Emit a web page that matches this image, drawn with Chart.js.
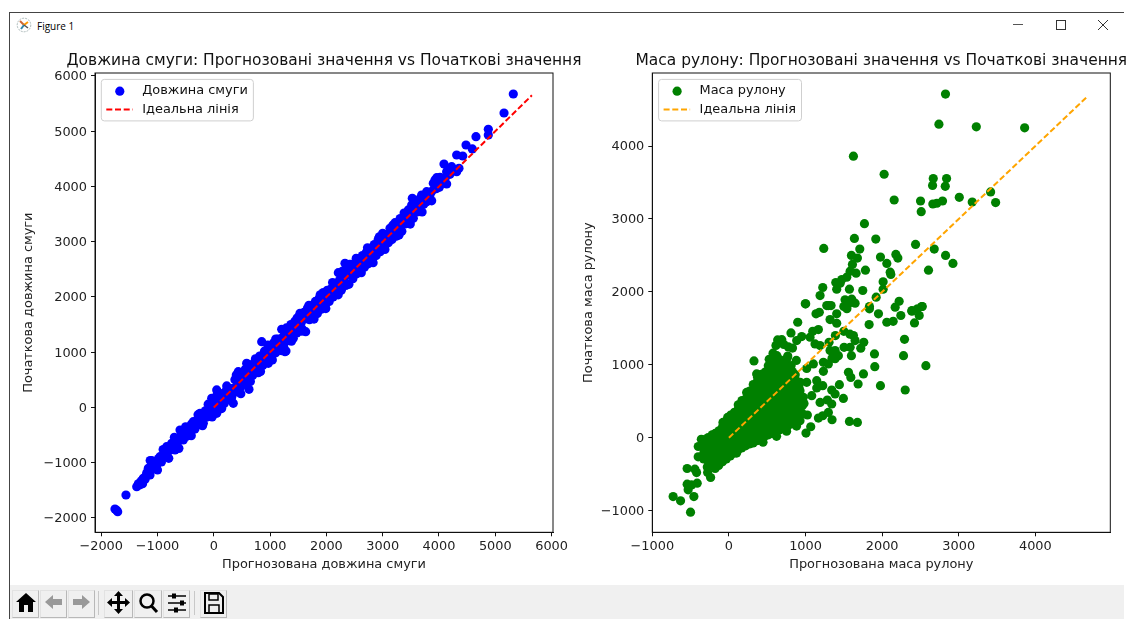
<!DOCTYPE html>
<html lang="uk">
<head>
<meta charset="utf-8">
<title>Figure 1</title>
<script src="https://cdn.jsdelivr.net/npm/chart.js@4"></script>
<style>
html,body{margin:0;padding:0;background:#fff;width:1126px;height:619px;overflow:hidden}
#win{position:absolute;left:9px;top:12px;width:1115px;height:607px;border-left:1px solid #444;border-top:1px solid #444;box-sizing:border-box;background:#fff}
#tt{position:absolute;left:37px;top:19px;font:10px "Open Sans",sans-serif;color:#000}
#bar{position:absolute;left:10px;top:585px;width:1114px;height:34px;background:#f0f0f0}
canvas{position:absolute}
svg{position:absolute}
.btn{position:absolute;top:590px;height:28px;background:#f0f0f0;border:1px solid #e2e2e2;border-bottom-color:#b8b8b8;border-right-color:#b8b8b8;box-sizing:border-box}
</style>
</head>
<body>
<div id="win"></div>
<svg style="left:16px;top:17px" width="16" height="16" viewBox="0 0 16 16">
<circle cx="8" cy="8" r="6.8" fill="none" stroke="#9aa" stroke-width=".8" stroke-dasharray="2 1"/>
<path d="M8 8L4 4" stroke="#c63" stroke-width="2"/><path d="M8 8L12 5" stroke="#f90" stroke-width="2"/><path d="M8 8L5 12" stroke="#38a" stroke-width="2"/><path d="M8 8L12 11" stroke="#555" stroke-width="1.5"/>
</svg>
<div id="tt">Figure 1</div>
<svg style="left:1010px;top:15px" width="110" height="20" viewBox="0 0 110 20">
<path d="M3 9.5H13" stroke="#555" stroke-width="1"/>
<rect x="46.5" y="5.5" width="9" height="9" fill="none" stroke="#333" stroke-width="1"/>
<path d="M88 5L98 15M98 5L88 15" stroke="#333" stroke-width="1"/>
</svg>
<canvas id="c1" width="608" height="545" style="left:20px;top:40px"></canvas>
<canvas id="c2" width="546" height="545" style="left:580px;top:40px"></canvas>
<div id="bar"></div>
<div class="btn" style="left:12px;width:27px"></div><div class="btn" style="left:40px;width:27px"></div><div class="btn" style="left:68px;width:27px"></div>
<div class="btn" style="left:104px;width:29px"></div><div class="btn" style="left:134px;width:28px"></div><div class="btn" style="left:163px;width:27px"></div>
<div class="btn" style="left:200px;width:27px"></div>
<svg style="left:0;top:585px" width="240" height="34" viewBox="0 0 240 34">
<path d="M98.5 6V30M194.5 6V30" stroke="#c8c8c8"/>
<path d="M16 17L26 8L36 17H33V27H28V20H24V27H19V17Z" fill="#000"/>
<path d="M45 17L53 10V14H62V20H53V24Z" fill="#999"/>
<path d="M90 17L82 10V14H73V20H82V24Z" fill="#999"/>
<path d="M118.500 6L123 11H120V16H125V13L130 17.500L125 22V19H120V24H123L118.500 29L114 24H117V19H112V22L107 17.500L112 13V16H117V11H114Z" fill="#000"/>
<circle cx="147" cy="16" r="6.500" fill="none" stroke="#000" stroke-width="2.500"/><path d="M151.500 21L157 27" stroke="#000" stroke-width="3"/>
<path d="M168 11H186M168 18H186M168 25H186" stroke="#000" stroke-width="1.500"/><rect x="172" y="8.500" width="4" height="5" fill="#000"/><rect x="180" y="15.500" width="4" height="5" fill="#000"/><rect x="174" y="22.500" width="4" height="5" fill="#000"/>
<path d="M205 8H219L223 12V28H205Z" fill="none" stroke="#000" stroke-width="2"/><rect x="209" y="9" width="9" height="6" fill="none" stroke="#000" stroke-width="1.500"/><rect x="209" y="20" width="10" height="8" fill="none" stroke="#000" stroke-width="1.500"/>
</svg>
<script>
const ticksLeft = [-2000,-1000,0,1000,2000,3000,4000,5000,6000];
const ticksRight = [-1000,0,1000,2000,3000,4000];
const leftTitle = 'Довжина смуги: Прогнозовані значення vs Початкові значення';
const rightTitle = 'Маса рулону: Прогнозовані значення vs Початкові значення';
const leftXLabel = 'Прогнозована довжина смуги';
const leftYLabel = 'Початкова довжина смуги';
const rightXLabel = 'Прогнозована маса рулону';
const rightYLabel = 'Початкова маса рулону';
const leftSeriesName = 'Довжина смуги';
const rightSeriesName = 'Маса рулону';
const idealName = 'Ідеальна лінія';
const leftIdeal = [[0,0],[5650,5650]];
const rightIdeal = [[0,0],[4680,4680]];
const lengthPoints = [
[-1755,-1837],[-1707,-1886],[-1725,-1860],[-1560,-1584],[-1369,-1433],[-1340,-1380],[-1310,-1400],[-1290,-1330],[-1252,-1281],[-1265,-1380],[-1220,-1300],[-1190,-1180],[-1163,-1100],[-1133,-1222],[-1103,-963],[-1080,-1110],[-1050,-1000],[-1014,-1041],[-985,-930],[-956,-890],[-930,-985],[-900,-900],[-867,-860],[-837,-709],[-815,-800],[-790,-735],[-748,-648],[-720,-720],[-689,-769],[-660,-640],[-630,-560],[-600,-407],[-575,-490],[-542,-588],[-510,-430],[-480,-520],[-450,-360],[-423,-467],[-395,-300],[-364,-257],[-335,-390],[-300,-230],[-270,-310],[-245,-105],[-215,-190],[-186,-286],[-150,-60],[-120,-170],[-90,-20],[-60,-110],[-37,166],[-10,-50],[20,90],[52,-105],[52,317],[85,170],[115,30],[150,250],[185,70],[215,300],[250,150],[285,340],[318,190],[346,76],[375,500],[405,280],[435,648],[470,360],[505,590],[540,420],[584,800],[600,500],[625,329],[655,770],[690,580],[720,810],[755,640],[790,630],[815,930],[851,1191],[870,760],[900,1020],[935,830],[968,800],[1000,1090],[1030,930],[1065,1170],[1100,990],[1135,1240],[1170,1050],[1206,1415],[1240,1110],[1265,1010],[1282,1023],[1300,1380],[1335,1210],[1370,1500],[1412,1252],[1440,1560],[1475,1350],[1510,1640],[1531,1705],[1570,1420],[1600,1720],[1632,1372],[1665,1800],[1700,1590],[1735,1850],[1770,1650],[1805,1920],[1840,1700],[1875,1980],[1910,1780],[1945,2080],[1980,1850],[2015,2120],[2050,1920],[2085,2150],[2120,2000],[2155,2240],[2212,2440],[2190,2070],[2230,2300],[2265,2120],[2300,2380],[2330,2610],[2345,2210],[2380,2560],[2410,2590],[2445,2590],[2470,2330],[2505,2610],[2540,2420],[2575,2690],[2610,2480],[2640,2750],[2675,2540],[2710,2810],[2745,2600],[2780,2880],[2815,2670],[2850,2950],[2885,2750],[2920,3040],[2955,2820],[3000,3153],[3030,2900],[3065,3130],[3100,2980],[3130,3243],[3165,3040],[3219,3345],[3240,3100],[3277,3153],[3310,3420],[3340,3190],[3396,3321],[3420,3500],[3455,3575],[3480,3360],[3515,3665],[3526,3786],[3544,3424],[3590,3540],[3633,3544],[3660,3780],[3692,3846],[3730,3680],[3781,3725],[3781,3906],[3840,3846],[3899,4058],[3929,4118],[4006,3985],[4018,4166],[3970,4050],[4089,4407],[4136,4268],[4136,4045],[4166,4329],[4225,4359],[4314,4268],[4314,4570],[4355,4329],[4421,4552],[4480,4751],[4592,4679],[4657,4902],[4876,4932],[4876,5035],[5155,5330],[5320,5674],
[-1205,-1235],[-1120,-1085],[-1035,-1060],[-960,-975],[-880,-830],[-760,-700],[-700,-660],[-610,-590],[-520,-530],[-460,-440],[-380,-350],[-320,-320],[-240,-230],[-170,-125],[-75,-80],[0,30],[45,10],[100,130],[170,120],[225,210],[275,235],[330,340],[395,360],[450,430],[490,460],[555,555],[610,650],[670,650],[735,720],[775,790],[835,810],[880,910],[925,930],[985,950],[1045,1060],[1090,1075],[1150,1140],[1215,1260],[1255,1310],[1320,1290],[1385,1400],[1425,1390],[1490,1510],[1550,1530],[1615,1600],[1680,1690],[1750,1740],[1820,1810],[1890,1880],[1960,1970],[2030,2020],[2100,2110],[2170,2160],[2245,2230],[2310,2310],[2365,2400],[2425,2440],[2490,2470],[2555,2560],[2625,2610],[2690,2680],[2760,2750],[2830,2820],[2900,2890],[2975,2990],[3045,3040],[3115,3110],[3185,3190],[3260,3250],[3325,3330],[3375,3400],[3440,3430],[3500,3520],[3570,3610],[3615,3650],[3680,3690],[3745,3790],[3810,3800],[3870,3910],[3950,3960],[4050,4090],[4110,4150],[4195,4220],[4280,4300],[3000,2990],[2960,3000],[2230,2200],[1850,1860],[1720,1700],[1650,1640],[1450,1450],[1190,1200],[1110,1110],[960,1000],[800,800],[520,520],[-130,-110],[-550,-540],[-650,-650],[-770,-770],
[-1130,-960],[-1000,-1130],[-900,-760],[-800,-920],[-700,-540],[-620,-740],[-500,-350],[-400,-510],[-280,-130],[-200,-330],[-100,60],[-30,-170],[60,240],[140,-20],[230,390],[310,120],[400,590],[480,250],[560,690],[650,470],[740,880],[830,650],[960,1130],[1040,860],[1100,1240],[1200,1030],[1290,1440],[1380,1200],[1480,1620],[1560,1380],[1690,1850],[1780,1600],[1890,2040],[1990,1790],[2110,2260],[2210,2040],[2290,2470],[2400,2230],[2530,2700],[2620,2440],[2730,2890],[2830,2620],[2940,3090],[3040,2860],[3180,3300],[3290,3120],[3380,3520],[3490,3320],[3590,3700],[3700,3540],[3870,3740],[3960,4160]
];
const massPoints = [
[2827,4712],[2741,4300],[3229,4263],[3860,4250],[1625,3860],[2026,3613],[2667,3553],[2841,3553],[2658,3460],[2824,3448],[3416,3370],[3007,3297],[2157,3260],[2501,3246],[3176,3232],[3481,3224],[2662,3205],[2714,3215],[2788,3246],[2510,3100],[1769,2935],[1638,2733],[1917,2724],[2436,2651],[1238,2596],[1708,2587],[2680,2587],[1599,2500],[1677,2463],[1978,2477],[2179,2514],[2205,2463],[2828,2500],[2924,2390],[2061,2390],[1612,2376],[1782,2298],[2605,2298],[1582,2284],[1660,2257],[2105,2270],[2113,2239],[1538,2202],[1473,2170],[1395,2129],[1452,2120],[1225,2060],[1407,2037],[1573,2037],[2013,2139],[2013,2037],[1747,2019],[1190,1950],[1922,1927],[997,1836],[1277,1813],[1333,1813],[1516,1891],[1603,1900],[1647,1845],[1560,1836],[2222,1872],[2170,1790],[1834,1800],[2523,1800],[2462,1768],[2388,1744],
[1137,1699],[898,1584],[1298,1813],[1407,1699],[1320,1620],[1407,1570],[1952,1699],[1834,1768],[1830,1552],[2061,1584],[2144,1597],[2244,1676],[2388,1735],[2519,1800],[2484,1676],[2422,1575],[2292,1350],[2279,1126],[2571,989],[2301,655],[1900,1150],[1904,975],[1756,875],[1978,714],[1686,737],[1760,1309],[1721,1227],[1573,224],[1677,210],[1494,540],[1442,728],[1346,247],[1342,655],[1386,600],[1285,518],[1342,463],[1190,485],[1298,347],[1225,302],[1168,270],[1068,151],[1006,65],[1024,312],[928,233],
[327,1054],[514,989],[362,875],[375,773],[231,622],[122,453],[-17,279],[-131,96],[-336,-32],[-270,4],[-401,-261],[-545,-421],[-444,-430],[-422,-477],[-239,-545],[-278,-477],[-545,-636],[-414,-622],[-488,-646],[-532,-714],[-457,-806],[-728,-806],[-631,-865],[-501,-1020],
[636,1342],[690,1345],[810,1438],[885,1332],[950,1387],[1094,1460],[1168,1483],[1059,1378],[1124,1287],[1190,1264],[1307,1309],[1390,1401],[1500,1460],[1625,1401],[1647,1332],[1580,1420],[1503,1240],[1582,1240],[1599,1126],[1320,1195],[1386,1195],[1429,1126],[1346,1090],[1386,1085],[1233,1034],[1298,1012],[1102,1012],[1015,950],[1233,911],[1560,897],[1591,828],[1146,783],[1015,760],[1225,714],[1146,683],[1081,577],[928,645],[971,554],[958,440],[1002,1836],[1180,1720],[1500,1800],[1540,1770],
[-400,-120],[-360,-20],[-80,-300],[100,-210],[445,-60],[622,20],[753,90],[883,160],[960,330],[980,470],[930,760],[880,1060],[760,1090],[830,1230],
[-330,-290],[-325,-200],[-335,-110],[-320,-30],[-282,-400],[-275,-320],[-285,-250],[-278,-170],[-270,-80],[-232,-360],[-225,-290],[-235,-210],[-228,-130],[-222,-40],[-218,40],[-180,-420],[-176,-340],[-186,-270],[-172,-190],[-184,-100],[-170,-20],[-178,60],[-134,-380],[-126,-300],[-138,-220],[-128,-150],[-122,-60],[-136,20],[-84,-330],[-76,-260],[-88,-180],[-74,-100],[-82,-20],[-72,60],[-86,140],[-78,210],[-34,-290],[-26,-210],[-38,-130],[-24,-50],[-32,30],[-22,110],[-36,190],[18,-250],[26,-170],[12,-90],[24,-10],[16,70],[28,150],[14,230],[22,310],[66,-210],[74,-130],[62,-50],[76,30],[68,110],[78,190],[64,270],[72,350],[116,-170],[124,-90],[112,-10],[126,70],[118,150],[128,230],[114,310],[122,390],[166,-140],[174,-60],[162,20],[176,100],[168,180],[178,260],[164,340],[172,420],[170,510],[218,-110],[226,-30],[212,50],[226,130],[216,210],[228,290],[214,370],[222,450],[218,530],[268,-85],[276,-5],[262,75],[278,155],[266,235],[274,315],[262,395],[276,475],[268,555],[272,640],[316,-70],[326,10],[312,90],[326,170],[318,250],[328,330],[314,410],[324,490],[316,570],[326,650],[318,730],[366,-40],[376,40],[362,120],[374,200],[368,280],[378,360],[364,440],[372,520],[366,600],[376,680],[368,760],[374,830],[416,-10],[424,70],[412,150],[428,230],[416,310],[426,390],[414,470],[422,550],[418,630],[428,710],[412,790],[424,870],[466,20],[476,100],[462,180],[474,260],[468,340],[478,420],[464,500],[472,580],[466,660],[476,740],[464,820],[474,900],[516,40],[524,120],[512,200],[528,280],[516,360],[526,440],[514,520],[524,600],[518,680],[528,760],[512,840],[522,920],[526,1075],[566,60],[576,140],[562,220],[574,300],[568,380],[578,460],[564,540],[572,620],[566,700],[576,780],[562,860],[574,940],[568,1020],[576,1160],[616,85],[624,165],[612,245],[628,325],[616,405],[626,485],[614,565],[622,645],[618,725],[628,805],[612,885],[624,965],[616,1045],[626,1125],[614,1265],[666,110],[676,190],[662,270],[674,350],[668,430],[678,510],[664,590],[672,670],[666,750],[676,830],[662,910],[674,990],[668,1070],[716,135],[724,215],[712,295],[728,375],[716,455],[726,535],[714,615],[722,695],[718,775],[728,855],[712,935],[724,1015],[716,1280],[766,160],[776,240],[762,320],[774,400],[768,480],[778,560],[764,640],[772,720],[766,800],[776,880],[762,960],[768,1120],[776,1245],[816,190],[824,270],[812,350],[828,430],[816,510],[826,590],[814,670],[822,750],[818,830],[828,910],[812,990],[866,225],[876,305],[862,385],[874,465],[868,545],[878,625],[864,705],[872,785],[866,865],[912,290],[920,370],[908,450],[922,530],[914,690]
];
function fmt(v){return String(v).replace('-','\u2212');}
const frameAndLegend = {
  id:'frameAndLegend',
  afterLayout(chart){
    const t=chart.titleBlock,a=chart.chartArea,mid=(a.left+a.right)/2;
    t.left=mid-320;t.right=mid+320;
  },
  afterDatasetsDraw(chart,args,o){
    const c=chart.ctx,a=chart.chartArea;
    c.save();
    c.strokeStyle='#111';c.lineWidth=1;
    c.strokeRect(a.left,a.top,a.right-a.left,a.bottom-a.top);
    c.font='12.9px "DejaVu Sans"';
    const tw=Math.max(c.measureText(o.names[0]).width,c.measureText(o.names[1]).width);
    const bx=a.left+6.3,by=a.top+6.4,bw=41+tw+5.5,bh=41.5;
    c.beginPath();c.roundRect(bx,by,bw,bh,3);
    c.fillStyle='rgba(255,255,255,0.8)';c.fill();
    c.strokeStyle='#cfcfcf';c.stroke();
    c.fillStyle=o.pointColor;
    c.beginPath();c.arc(bx+18.5,by+11.8,4.6,0,Math.PI*2);c.fill();
    c.strokeStyle=o.lineColor;c.lineWidth=2;c.setLineDash([6,2.7]);
    c.beginPath();c.moveTo(bx+5,by+30);c.lineTo(bx+31.5,by+30);c.stroke();
    c.setLineDash([]);
    c.fillStyle='#111';c.textBaseline='middle';c.textAlign='left';
    c.fillText(o.names[0],bx+41,by+11);
    c.fillText(o.names[1],bx+41,by+30);
    c.restore();
  }
};
function build(id,cfg){
  const axisFont={family:'"DejaVu Sans"',size:12.9};
  return new Chart(document.getElementById(id),{
    type:'scatter',
    plugins:[frameAndLegend],
    data:{datasets:[
      {label:cfg.name,data:cfg.points.map(p=>({x:p[0],y:p[1]})),backgroundColor:cfg.pointColor,borderWidth:0,pointRadius:4.6,pointHoverRadius:4.6,order:2},
      {label:idealName,data:cfg.ideal.map(p=>({x:p[0],y:p[1]})),showLine:true,pointRadius:0,borderColor:cfg.lineColor,borderWidth:2,borderDash:[6,2.7],order:1}
    ]},
    options:{
      responsive:false,animation:false,
      layout:{autoPadding:false,padding:{top:0,left:0,bottom:0,right:cfg.padRight}},
      plugins:{
        legend:{display:false},tooltip:{enabled:false},
        title:{display:true,text:cfg.title,color:'#111',font:{family:'"DejaVu Sans"',size:15.45,weight:'normal',lineHeight:1.2},padding:{top:11.6,bottom:2.86}},
        frameAndLegend:{names:[cfg.name,idealName],pointColor:cfg.pointColor,lineColor:cfg.lineColor}
      },
      scales:{
        x:{type:'linear',min:cfg.xMin,max:cfg.xMax,
          afterFit(s){s.height=52.7;},
          afterBuildTicks(s){s.ticks=cfg.xTicks.map(v=>({value:v}));},
          grid:{drawOnChartArea:false,drawTicks:true,tickLength:4,color:'#111'},border:{color:'#111'},
          ticks:{color:'#222',font:axisFont,padding:3,maxRotation:0,autoSkip:false,callback:fmt},
          title:{display:true,text:cfg.xLabel,color:'#222',font:axisFont,padding:{top:0,bottom:13}}},
        y:{type:'linear',min:cfg.yMin,max:cfg.yMax,
          afterFit(s){s.width=cfg.padLeft;},
          afterBuildTicks(s){s.ticks=cfg.yTicks.map(v=>({value:v}));},
          grid:{drawOnChartArea:false,drawTicks:true,tickLength:4,color:'#111'},border:{color:'#111'},
          ticks:{color:'#222',font:axisFont,padding:4,labelOffset:1,autoSkip:false,callback:fmt},
          title:{display:true,text:cfg.yLabel,color:'#222',font:axisFont,padding:{top:1,bottom:0}}}
      }
    }
  });
}
build('c1',{name:leftSeriesName,points:lengthPoints,ideal:leftIdeal,pointColor:'#0000ff',lineColor:'#ff0000',title:leftTitle,xLabel:leftXLabel,yLabel:leftYLabel,
  xMin:-2110,xMax:6025,yMin:-2259,yMax:6054,xTicks:ticksLeft,yTicks:ticksLeft,padLeft:75,padRight:75});
build('c2',{name:rightSeriesName,points:massPoints,ideal:rightIdeal,pointColor:'#008000',lineColor:'#ffa500',title:rightTitle,xLabel:rightXLabel,yLabel:rightYLabel,
  xMin:-1000,xMax:4978,yMin:-1296,yMax:5001,xTicks:ticksRight,yTicks:ticksRight,padLeft:72.3,padRight:15.7});
</script>
</body>
</html>
